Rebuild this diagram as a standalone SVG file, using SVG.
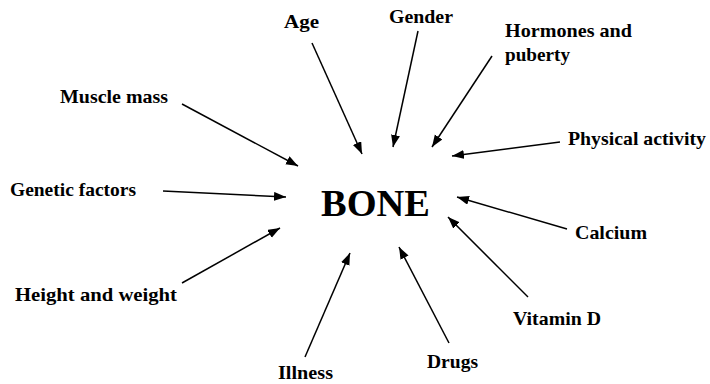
<svg xmlns="http://www.w3.org/2000/svg" width="710" height="384" viewBox="0 0 710 384">
<style>
.lbl{font-family:"Liberation Serif","Times New Roman",serif;font-weight:bold;font-size:19.5px;fill:#000}
.big{font-family:"Liberation Serif","Times New Roman",serif;font-weight:bold;font-size:38px;fill:#000}
.c line{stroke:#000;stroke-width:1.5;marker-end:url(#ah)}
</style>
<defs>
<marker id="ah" markerUnits="userSpaceOnUse" markerWidth="14" markerHeight="10" refX="12" refY="4.5" orient="auto">
<path d="M0,0 L12,4.5 L0,9 Z" fill="#000"/>
</marker>
</defs>
<rect width="710" height="384" fill="#fff"/>
<g id="bone"><text class="big" x="321" y="216" textLength="109" lengthAdjust="spacingAndGlyphs">BONE</text></g>
<g id="age"><text class="lbl" x="284" y="28" textLength="35" lengthAdjust="spacingAndGlyphs">Age</text></g>
<g id="gender"><text class="lbl" x="389" y="23" textLength="64" lengthAdjust="spacingAndGlyphs">Gender</text></g>
<g id="hormones"><text class="lbl" x="505" y="37" textLength="127" lengthAdjust="spacingAndGlyphs">Hormones and</text><text class="lbl" x="505" y="61" textLength="65" lengthAdjust="spacingAndGlyphs">puberty</text></g>
<g id="physical"><text class="lbl" x="568" y="145" textLength="138" lengthAdjust="spacingAndGlyphs">Physical activity</text></g>
<g id="muscle"><text class="lbl" x="60" y="103" textLength="108" lengthAdjust="spacingAndGlyphs">Muscle mass</text></g>
<g id="genetic"><text class="lbl" x="10" y="196" textLength="126" lengthAdjust="spacingAndGlyphs">Genetic factors</text></g>
<g id="height"><text class="lbl" x="15" y="301" textLength="162" lengthAdjust="spacingAndGlyphs">Height and weight</text></g>
<g id="illness"><text class="lbl" x="278" y="379" textLength="55" lengthAdjust="spacingAndGlyphs">Illness</text></g>
<g id="drugs"><text class="lbl" x="427" y="368" textLength="51" lengthAdjust="spacingAndGlyphs">Drugs</text></g>
<g id="vitamind"><text class="lbl" x="513" y="325" textLength="88" lengthAdjust="spacingAndGlyphs">Vitamin D</text></g>
<g id="calcium"><text class="lbl" x="575" y="239" textLength="72" lengthAdjust="spacingAndGlyphs">Calcium</text></g>
<g id="connectors" class="c">
<line x1="312" y1="43" x2="362" y2="154"/>
<line x1="418" y1="31" x2="393" y2="147"/>
<line x1="492" y1="56" x2="432" y2="147"/>
<line x1="560" y1="142" x2="452" y2="156"/>
<line x1="182" y1="104" x2="298" y2="166"/>
<line x1="163" y1="191" x2="286" y2="197"/>
<line x1="182" y1="283" x2="280" y2="228"/>
<line x1="305" y1="357" x2="350" y2="253"/>
<line x1="449" y1="343" x2="399" y2="247"/>
<line x1="528" y1="297" x2="448" y2="217"/>
<line x1="567" y1="229" x2="457" y2="197"/>
</g>
</svg>
